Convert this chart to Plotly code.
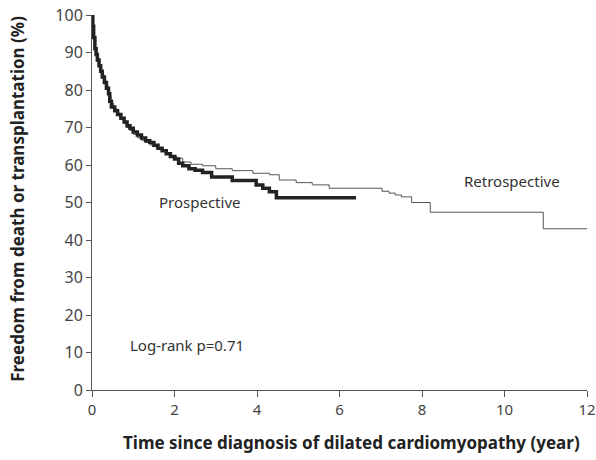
import plotly.graph_objects as go

# Kaplan-Meier step data (years, % freedom from death or transplantation)
pro_t = [0, 0.02, 0.04, 0.07, 0.1, 0.13, 0.17, 0.21, 0.25, 0.3, 0.35, 0.4, 0.43, 0.47,
         0.55, 0.62, 0.7, 0.78, 0.85, 0.92, 1.0, 1.1, 1.2, 1.3, 1.4, 1.5, 1.6, 1.7, 1.8,
         1.9, 2.0, 2.1, 2.2, 2.35, 2.5, 2.68, 2.9, 3.4, 3.98, 4.14, 4.3, 4.47, 6.4]
pro_s = [100, 97, 94, 91, 89.5, 88, 86.5, 85, 83.5, 82, 80.5, 79, 77, 75.5,
         74.5, 73.5, 72.5, 71.5, 70.5, 69.8, 68.8, 68, 67.2, 66.5, 66, 65.3, 64.5, 63.8, 63,
         62.3, 61.6, 60.5, 59.8, 59.0, 58.6, 58.0, 56.8, 55.9, 54.7, 53.8, 52.9, 51.3, 51.3]

retro_t = [0, 0.02, 0.05, 0.08, 0.11, 0.15, 0.19, 0.23, 0.28, 0.33, 0.38, 0.42, 0.46,
           0.52, 0.6, 0.68, 0.76, 0.84, 0.92, 1.0, 1.1, 1.2, 1.3, 1.42, 1.55, 1.68, 1.8,
           1.92, 2.05, 2.2, 2.4, 2.68, 3.0, 3.4, 3.9, 4.3, 4.54, 4.95, 5.34, 5.75, 7.03,
           7.2, 7.35, 7.5, 7.75, 8.2, 10.94, 12.0]
retro_s = [100, 96.5, 93.5, 91, 89, 87.5, 86, 84.5, 83, 81.5, 80, 78.5, 76.5,
           75, 73.8, 72.5, 71.2, 70, 69.2, 68.2, 67.3, 66.6, 66, 65.3, 64.6, 63.8, 63.2,
           62.5, 61.8, 60.8, 60.2, 59.8, 59.0, 58.5, 57.8, 57.4, 56.0, 55.3, 54.7, 53.8, 53.0,
           52.5, 52.0, 51.5, 50.0, 47.4, 43.0, 43.0]

x_ticks = [0, 2, 4, 6, 8, 10, 12]
y_ticks = [0, 10, 20, 30, 40, 50, 60, 70, 80, 90, 100]

FONT = "Noto Sans"

fig = go.Figure()
fig.add_trace(go.Scatter(x=retro_t, y=retro_s, mode="lines", line_shape="hv",
                         line=dict(color="#555555", width=1), name="Retrospective",
                         hoverinfo="skip", cliponaxis=False))
fig.add_trace(go.Scatter(x=pro_t, y=pro_s, mode="lines", line_shape="hv",
                         line=dict(color="#222222", width=3.5), name="Prospective",
                         hoverinfo="skip", cliponaxis=False))

PL, PR, PT, PB = 92, 587, 15, 390.5
annots = [
    dict(x=2.6, y=50.2, text="Prospective", xref="x", yref="y", showarrow=False,
         font=dict(size=15, color="#333333", family=FONT)),
    dict(x=10.17, y=55.8, text="Retrospective", xref="x", yref="y", showarrow=False,
         font=dict(size=15, color="#333333", family=FONT)),
    dict(x=2.3, y=12.1, text="Log-rank p=0.71", xref="x", yref="y", showarrow=False,
         font=dict(size=15, color="#333333", family=FONT)),
    dict(x=(351 - PL) / (PR - PL), y=-(443 - PB) / (PB - PT),
         xref="paper", yref="paper", showarrow=False,
         text="<b>Time since diagnosis of dilated cardiomyopathy (year)</b>",
         font=dict(size=17, color="#222222", family=FONT),
         xanchor="center", yanchor="middle"),
    dict(x=-(PL - 18) / (PR - PL), y=(PB - 199) / (PB - PT),
         xref="paper", yref="paper", showarrow=False, textangle=-90,
         text="<b>Freedom from death or transplantation (%)</b>",
         font=dict(size=17, color="#222222", family=FONT),
         xanchor="center", yanchor="middle"),
]

fig.update_layout(
    width=596, height=460,
    margin=dict(l=PL, r=596 - PR, t=PT, b=460 - PB, autoexpand=False),
    paper_bgcolor="white", plot_bgcolor="white",
    showlegend=False,
    annotations=annots,
    xaxis=dict(range=[0, 12], tickvals=x_ticks, showgrid=False, zeroline=False,
               showline=True, linecolor="#555555", linewidth=1, automargin=False,
               ticks="outside", ticklen=6, tickcolor="#555555",
               ticklabeloverflow="allow",
               tickfont=dict(size=15, color="#444444", family=FONT)),
    yaxis=dict(range=[0, 100], tickvals=y_ticks, showgrid=False, zeroline=False,
               showline=True, linecolor="#555555", linewidth=1, automargin=False,
               ticks="outside", ticklen=5, tickcolor="#555555",
               ticklabeloverflow="allow",
               tickfont=dict(size=16, color="#444444", family=FONT)),
)

fig.write_html("out.html", config={"displayModeBar": False})

# remove default body margin so the figure sits at the page origin
with open("out.html", "r", encoding="utf-8") as f:
    html = f.read()
html = html.replace("<body>", '<body style="margin:0;padding:0;overflow:hidden">', 1)
with open("out.html", "w", encoding="utf-8") as f:
    f.write(html)
